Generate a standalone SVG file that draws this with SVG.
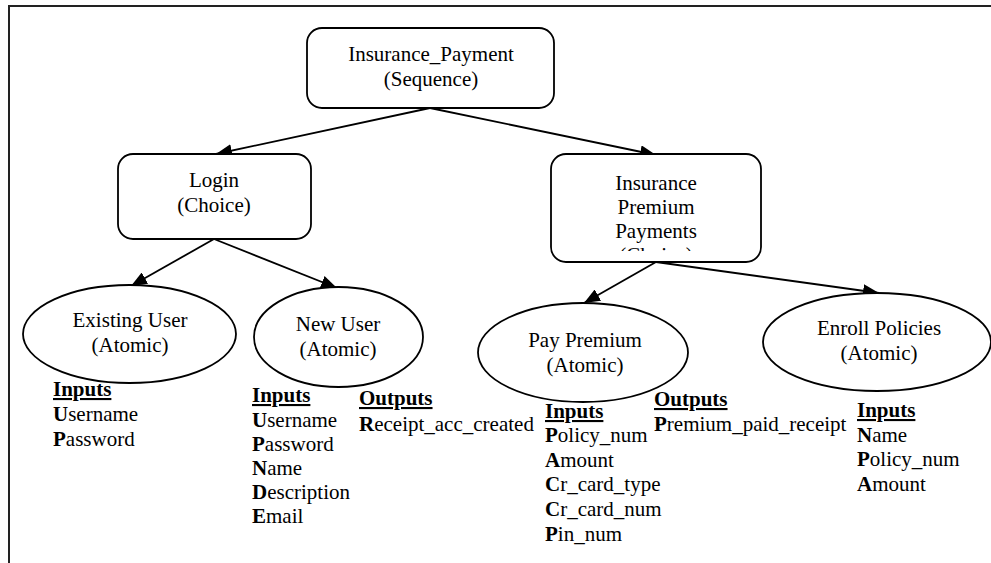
<svg xmlns="http://www.w3.org/2000/svg" width="991" height="563" viewBox="0 0 991 563">
<style>
  .shape { fill: #fff; stroke: #000; stroke-width: 1.8; }
  .conn { fill: none; stroke: #000; stroke-width: 1.8; }
  .frame { fill: none; stroke: #222; stroke-width: 2; }
  text { font-family: 'Liberation Serif', 'Times New Roman', Times, 'DejaVu Serif', serif; font-size: 21px; fill: #000; }
  .lbl { text-anchor: middle; }
  .b { font-weight: bold; }
  .hd { font-weight: bold; text-decoration: underline; }
</style>
<defs>
  <marker id="arrow" markerUnits="userSpaceOnUse" markerWidth="17" markerHeight="13" refX="16" refY="6.5" orient="auto">
    <path d="M0,0 L16,6.5 L0,13 Z" fill="#000"/>
  </marker>
  <clipPath id="ippClip"><rect x="551" y="154" width="210" height="97"/></clipPath>
</defs>

<path class="frame" d="M9,563 L9,6 L991,6"/>

<g id="connectors">
  <line class="conn" x1="430" y1="108" x2="216" y2="154" marker-end="url(#arrow)"/>
  <line class="conn" x1="430" y1="108" x2="656" y2="155" marker-end="url(#arrow)"/>
  <line class="conn" x1="214" y1="239" x2="131" y2="286" marker-end="url(#arrow)"/>
  <line class="conn" x1="214" y1="239" x2="337" y2="288" marker-end="url(#arrow)"/>
  <line class="conn" x1="656" y1="262" x2="584" y2="303" marker-end="url(#arrow)"/>
  <line class="conn" x1="656" y1="262" x2="879" y2="293" marker-end="url(#arrow)"/>
</g>

<g id="insurance_payment">
  <rect class="shape" x="307" y="28" width="247" height="80" rx="15"/>
  <text class="lbl" x="431" y="61">Insurance_Payment</text>
  <text class="lbl" x="431" y="86">(Sequence)</text>
</g>

<g id="login">
  <rect class="shape" x="118" y="154" width="193" height="85" rx="15"/>
  <text class="lbl" x="214" y="187">Login</text>
  <text class="lbl" x="214" y="212">(Choice)</text>
</g>

<g id="insurance_premium_payments">
  <rect class="shape" x="551" y="154" width="210" height="108" rx="15"/>
  <g clip-path="url(#ippClip)">
    <text class="lbl" x="656" y="190">Insurance</text>
    <text class="lbl" x="656" y="214">Premium</text>
    <text class="lbl" x="656" y="238">Payments</text>
    <text class="lbl" x="656" y="262">(Choice)</text>
  </g>
</g>

<g id="existing_user">
  <ellipse class="shape" cx="129.5" cy="334" rx="106.5" ry="49"/>
  <text class="lbl" x="130" y="327">Existing User</text>
  <text class="lbl" x="130" y="352">(Atomic)</text>
</g>

<g id="new_user">
  <ellipse class="shape" cx="338.5" cy="337" rx="84.5" ry="50"/>
  <text class="lbl" x="338" y="331">New User</text>
  <text class="lbl" x="338" y="356">(Atomic)</text>
</g>

<g id="pay_premium">
  <ellipse class="shape" cx="583" cy="352.5" rx="105" ry="49.5"/>
  <text class="lbl" x="585" y="347">Pay Premium</text>
  <text class="lbl" x="585" y="372">(Atomic)</text>
</g>

<g id="enroll_policies">
  <ellipse class="shape" cx="877" cy="342" rx="114" ry="49"/>
  <text class="lbl" x="879" y="335">Enroll Policies</text>
  <text class="lbl" x="879" y="360">(Atomic)</text>
</g>

<g id="existing_user_io">
  <text x="53" y="396" class="hd">Inputs</text>
  <text x="53" y="421"><tspan class="b">U</tspan>sername</text>
  <text x="53" y="446"><tspan class="b">P</tspan>assword</text>
</g>

<g id="new_user_io">
  <text x="252" y="402" class="hd">Inputs</text>
  <text x="252" y="427"><tspan class="b">U</tspan>sername</text>
  <text x="252" y="451"><tspan class="b">P</tspan>assword</text>
  <text x="252" y="475"><tspan class="b">N</tspan>ame</text>
  <text x="252" y="499"><tspan class="b">D</tspan>escription</text>
  <text x="252" y="523"><tspan class="b">E</tspan>mail</text>
  <text x="359" y="405" class="hd">Outputs</text>
  <text x="359" y="431"><tspan class="b">R</tspan>eceipt_acc_created</text>
</g>

<g id="pay_premium_io">
  <text x="545" y="418" class="hd">Inputs</text>
  <text x="545" y="442"><tspan class="b">P</tspan>olicy_num</text>
  <text x="545" y="467"><tspan class="b">A</tspan>mount</text>
  <text x="545" y="491"><tspan class="b">C</tspan>r_card_type</text>
  <text x="545" y="516"><tspan class="b">C</tspan>r_card_num</text>
  <text x="545" y="541"><tspan class="b">P</tspan>in_num</text>
  <text x="654" y="406" class="hd">Outputs</text>
  <text x="654" y="431"><tspan class="b">P</tspan>remium_paid_receipt</text>
</g>

<g id="enroll_policies_io">
  <text x="857" y="417" class="hd">Inputs</text>
  <text x="857" y="442"><tspan class="b">N</tspan>ame</text>
  <text x="857" y="466"><tspan class="b">P</tspan>olicy_num</text>
  <text x="857" y="491"><tspan class="b">A</tspan>mount</text>
</g>
</svg>
